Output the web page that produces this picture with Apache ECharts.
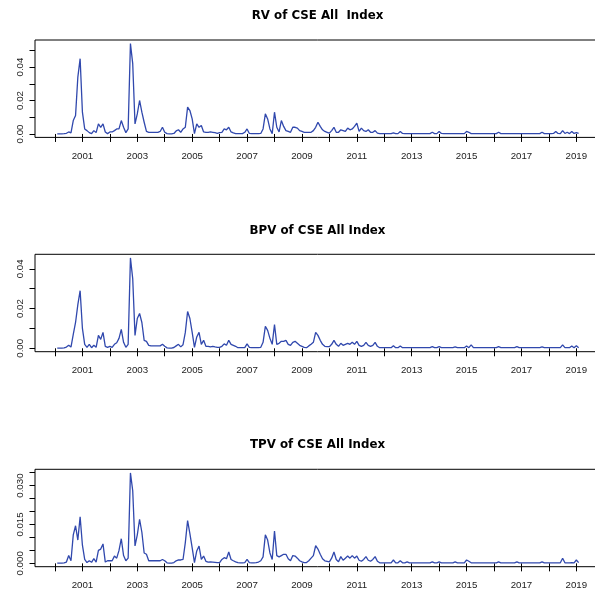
<!DOCTYPE html>
<html>
<head>
<meta charset="utf-8">
<script src="https://cdn.jsdelivr.net/npm/echarts@6/dist/echarts.min.js"></script>
<style>
  html, body { margin: 0; padding: 0; background: #fff; overflow: hidden; }
  /* the plotting frame runs a few pixels past the right edge of the page */
  #chart { width: 606px; height: 595px; }
</style>
</head>
<body>
<div id="chart"></div>
<script>
// Monthly realized-variance measures of the CSE All Share Index, Feb 2000 - Feb 2019
const START_YEAR = 2000;
const START_MONTH = 1; // 0 = January

// Realized variance (one row per calendar year)
const rv = [
  0.0001, 0.0001, 0.0001, 0.0002, 0.0004, 0.0012, 0.0006, 0.008, 0.011, 0.034, 0.045,
  0.013, 0.003, 0.002, 0.0008, 0.0002, 0.002, 0.0008, 0.006, 0.004, 0.006, 0.0012, 0.0002,
  0.0012, 0.0012, 0.002, 0.003, 0.003, 0.008, 0.004, 0.0008, 0.003, 0.054, 0.042, 0.006,
  0.012, 0.020, 0.013, 0.007, 0.0015, 0.001, 0.001, 0.001, 0.001, 0.001, 0.0015, 0.004,
  0.001, 0.0002, 0.0001, 0.0001, 0.0003, 0.0018, 0.0025, 0.001, 0.003, 0.004, 0.016, 0.014,
  0.009, 0.0002, 0.006, 0.004, 0.005, 0.0012, 0.001, 0.001, 0.0012, 0.001, 0.0008, 0.0004,
  0.0008, 0.001, 0.003, 0.0025, 0.004, 0.0012, 0.0006, 0.0002, 0.0002, 0.0002, 0.0002, 0.001,
  0.003, 0.0003, 0.0002, 0.0002, 0.0002, 0.0002, 0.0003, 0.003, 0.012, 0.009, 0.003, 0.0002,
  0.013, 0.004, 0.0012, 0.008, 0.0045, 0.002, 0.0015, 0.001, 0.004, 0.004, 0.0035, 0.002,
  0.0015, 0.001, 0.001, 0.001, 0.001, 0.002, 0.004, 0.007, 0.0045, 0.0025, 0.0015, 0.001,
  0.0005, 0.002, 0.004, 0.001, 0.001, 0.0025, 0.002, 0.0015, 0.0035, 0.0025, 0.003, 0.0045,
  0.0065, 0.0015, 0.0035, 0.002, 0.0015, 0.0025, 0.001, 0.001, 0.002, 0.0005, 0.0002, 0.0002,
  0.0002, 0.0002, 0.0002, 0.0002, 0.0006, 0.0002, 0.0002, 0.0015, 0.0003, 0.0002, 0.0002, 0.0002,
  0.0002, 0.0002, 0.0002, 0.0002, 0.0002, 0.0002, 0.0002, 0.0002, 0.0002, 0.001, 0.0002, 0.0002,
  0.0015, 0.0003, 0.0002, 0.0002, 0.0002, 0.0002, 0.0002, 0.0002, 0.0002, 0.0002, 0.0002, 0.0002,
  0.0015, 0.001, 0.0002, 0.0002, 0.0002, 0.0002, 0.0002, 0.0002, 0.0002, 0.0002, 0.0002, 0.0002,
  0.0002, 0.0002, 0.001, 0.0002, 0.0002, 0.0002, 0.0002, 0.0002, 0.0002, 0.0002, 0.0002, 0.0002,
  0.0002, 0.0002, 0.0002, 0.0002, 0.0002, 0.0002, 0.0002, 0.0002, 0.0002, 0.001, 0.0002, 0.0002,
  0.0002, 0.0002, 0.0003, 0.0015, 0.0003, 0.0002, 0.002, 0.0003, 0.001, 0.0002, 0.0015, 0.0003,
  0.0008, 0.0003
];

// Bipower variation
const bpv = [
  0.0001, 0.0001, 0.0001, 0.0002, 0.0006, 0.0015, 0.0006, 0.007, 0.013, 0.022, 0.029,
  0.010, 0.002, 0.0005, 0.002, 0.0003, 0.0015, 0.0005, 0.0065, 0.0045, 0.008, 0.001, 0.0005,
  0.001, 0.0005, 0.002, 0.0028, 0.005, 0.0095, 0.003, 0.0005, 0.002, 0.0455, 0.035, 0.0065,
  0.015, 0.0175, 0.013, 0.004, 0.0035, 0.0015, 0.0012, 0.0012, 0.0012, 0.0012, 0.0012, 0.002,
  0.001, 0.0002, 0.0001, 0.0001, 0.0004, 0.0012, 0.002, 0.0007, 0.0018, 0.008, 0.0185, 0.015,
  0.008, 0.0005, 0.0057, 0.008, 0.002, 0.004, 0.001, 0.001, 0.0007, 0.001, 0.0007, 0.0005,
  0.0005, 0.001, 0.0022, 0.0015, 0.004, 0.002, 0.0015, 0.001, 0.0003, 0.0003, 0.0003, 0.0003,
  0.0022, 0.0005, 0.0003, 0.0003, 0.0003, 0.0003, 0.0005, 0.003, 0.011, 0.009, 0.005, 0.002,
  0.012, 0.002, 0.0025, 0.0035, 0.0035, 0.004, 0.002, 0.0015, 0.003, 0.0035, 0.0025, 0.0015,
  0.001, 0.0005, 0.0003, 0.0012, 0.002, 0.003, 0.008, 0.0065, 0.004, 0.002, 0.001, 0.0008,
  0.0008, 0.002, 0.004, 0.002, 0.001, 0.0025, 0.0015, 0.002, 0.0025, 0.002, 0.003, 0.002,
  0.0035, 0.0015, 0.001, 0.0015, 0.003, 0.0015, 0.001, 0.0015, 0.003, 0.001, 0.0003, 0.0003,
  0.0003, 0.0003, 0.0003, 0.0003, 0.0013, 0.0003, 0.0003, 0.0012, 0.0003, 0.0003, 0.0003, 0.0003,
  0.0003, 0.0003, 0.0003, 0.0003, 0.0003, 0.0003, 0.0003, 0.0003, 0.0003, 0.0008, 0.0003, 0.0003,
  0.0008, 0.0003, 0.0003, 0.0003, 0.0003, 0.0003, 0.0003, 0.0007, 0.0003, 0.0003, 0.0003, 0.0003,
  0.0012, 0.0003, 0.0017, 0.0003, 0.0003, 0.0003, 0.0003, 0.0003, 0.0003, 0.0003, 0.0003, 0.0003,
  0.0003, 0.0003, 0.0008, 0.0003, 0.0003, 0.0003, 0.0003, 0.0003, 0.0003, 0.0003, 0.0008, 0.0003,
  0.0003, 0.0003, 0.0003, 0.0003, 0.0003, 0.0003, 0.0003, 0.0003, 0.0003, 0.0007, 0.0003, 0.0003,
  0.0003, 0.0003, 0.0003, 0.0003, 0.0003, 0.0003, 0.0017, 0.0003, 0.0003, 0.0003, 0.0012, 0.0003,
  0.0013, 0.0003
];

// Tripower variation
const tpv = [
  0.0001, 0.0001, 0.0001, 0.0002, 0.0005, 0.003, 0.001, 0.011, 0.0145, 0.009, 0.018,
  0.007, 0.0015, 0.0003, 0.001, 0.0004, 0.0018, 0.0005, 0.005, 0.0055, 0.0075, 0.0005, 0.001,
  0.001, 0.001, 0.0028, 0.002, 0.005, 0.0095, 0.003, 0.001, 0.002, 0.0349, 0.028, 0.0067,
  0.011, 0.017, 0.012, 0.004, 0.0035, 0.001, 0.001, 0.001, 0.001, 0.001, 0.001, 0.0015,
  0.001, 0.0002, 0.0001, 0.0001, 0.0003, 0.001, 0.0013, 0.0013, 0.0015, 0.008, 0.0165, 0.0115,
  0.006, 0.0003, 0.0048, 0.0067, 0.0015, 0.0028, 0.0008, 0.0005, 0.0006, 0.0005, 0.0004, 0.0003,
  0.0003, 0.0015, 0.0022, 0.0018, 0.0044, 0.0015, 0.001, 0.0006, 0.0003, 0.0002, 0.0002, 0.0003,
  0.0015, 0.0003, 0.0002, 0.0002, 0.0003, 0.0005, 0.001, 0.0025, 0.011, 0.009, 0.004, 0.0015,
  0.0125, 0.003, 0.0025, 0.003, 0.0035, 0.0035, 0.0018, 0.001, 0.003, 0.0028, 0.002, 0.001,
  0.0006, 0.0003, 0.0003, 0.001, 0.002, 0.003, 0.0068, 0.0055, 0.0035, 0.0018, 0.001, 0.0008,
  0.0006, 0.002, 0.0044, 0.0015, 0.0006, 0.0026, 0.0012, 0.002, 0.0028, 0.002, 0.003, 0.002,
  0.0028, 0.0012, 0.0008, 0.0015, 0.0026, 0.0012, 0.0008, 0.0015, 0.0026, 0.0008, 0.0002, 0.0002,
  0.0002, 0.0002, 0.0002, 0.0002, 0.0013, 0.0002, 0.0002, 0.001, 0.0002, 0.0002, 0.0006, 0.0002,
  0.0002, 0.0002, 0.0002, 0.0002, 0.0002, 0.0002, 0.0002, 0.0002, 0.0002, 0.0006, 0.0002, 0.0002,
  0.0006, 0.0002, 0.0002, 0.0002, 0.0002, 0.0002, 0.0002, 0.0006, 0.0002, 0.0002, 0.0002, 0.0002,
  0.0013, 0.0008, 0.0002, 0.0002, 0.0002, 0.0002, 0.0002, 0.0002, 0.0002, 0.0002, 0.0002, 0.0002,
  0.0002, 0.0002, 0.0006, 0.0002, 0.0002, 0.0002, 0.0002, 0.0002, 0.0002, 0.0002, 0.0006, 0.0002,
  0.0002, 0.0002, 0.0002, 0.0002, 0.0002, 0.0002, 0.0002, 0.0002, 0.0002, 0.0006, 0.0002, 0.0002,
  0.0002, 0.0002, 0.0002, 0.0002, 0.0002, 0.0002, 0.002, 0.0002, 0.0002, 0.0002, 0.0003, 0.0002,
  0.0013, 0.0003
];

const titles = ['RV of CSE All  Index', 'BPV of CSE All Index', 'TPV of CSE All Index'];

// Axis ticks and labels
const yearTicks = [2000, 2001, 2002, 2003, 2004, 2005, 2006, 2007, 2008, 2009,
                   2010, 2011, 2012, 2013, 2014, 2015, 2016, 2017, 2018, 2019];
const yearLabels = [2001, 2003, 2005, 2007, 2009, 2011, 2013, 2015, 2017, 2019];
const rvTicks = [0, 0.01, 0.02, 0.03, 0.04, 0.05];
const rvLabels = [0, 0.02, 0.04];
const bpvTicks = [0, 0.01, 0.02, 0.03, 0.04];
const bpvLabels = [0, 0.02, 0.04];
const tpvTicks = [0, 0.005, 0.01, 0.015, 0.02, 0.025, 0.03, 0.035];
const tpvLabels = [0, 0.015, 0.03];

// decimal-year time stamp for each monthly observation
const times = rv.map((_, i) => START_YEAR + (START_MONTH + i) / 12);

// R-style axis extent: data range padded by 4% on each side
function padded(values) {
  const lo = Math.min(...values), hi = Math.max(...values);
  const pad = 0.04 * (hi - lo);
  return [lo - pad, hi + pad];
}

const X_MIN = 1999.272, X_MAX = 2019.862;
const LINE_COLOR = '#3048ad';
const TICK_FONT = '"Liberation Sans", Arial, sans-serif';

const panels = [
  { title: titles[0], values: rv,  ticks: rvTicks,  labels: rvLabels,  digits: 2, top: 40,    titleY: 16 },
  { title: titles[1], values: bpv, ticks: bpvTicks, labels: bpvLabels, digits: 2, top: 254.3, titleY: 230.6 },
  { title: titles[2], values: tpv, ticks: tpvTicks, labels: tpvLabels, digits: 3, top: 469.3, titleY: 445.2 }
];

const chart = echarts.init(document.getElementById('chart'), null, { renderer: 'canvas' });

const option = {
  animation: false,
  backgroundColor: '#ffffff',
  title: panels.map(p => ({
    text: p.title,
    left: 317.5,
    top: p.titleY,
    padding: 0,
    textAlign: 'center',
    textVerticalAlign: 'middle',
    textStyle: { fontFamily: '"DejaVu Sans", sans-serif', fontWeight: 'bold', fontSize: 11.8, color: '#000' }
  })),
  grid: panels.map(p => ({
    left: 35, top: p.top, width: 565, height: 97.4,
    show: true, borderColor: '#000', borderWidth: 1, backgroundColor: 'transparent',
    containLabel: false
  })),
  xAxis: panels.map((p, i) => ({
    gridIndex: i,
    type: 'value',
    min: X_MIN,
    max: X_MAX,
    axisLine: { show: false },
    splitLine: { show: false },
    axisTick: { show: true, customValues: yearTicks, length: 8, lineStyle: { color: '#000', width: 1 } },
    axisLabel: {
      show: true, customValues: yearLabels, margin: 14,
      fontFamily: TICK_FONT, fontSize: 9.7, color: '#222',
      formatter: v => String(Math.round(v))
    }
  })),
  yAxis: panels.map((p, i) => {
    const [lo, hi] = padded(p.values);
    return {
      gridIndex: i,
      type: 'value',
      min: lo,
      max: hi,
      axisLine: { show: false },
      splitLine: { show: false },
      axisTick: { show: true, customValues: p.ticks, length: 5.5, lineStyle: { color: '#000', width: 1 } },
      axisLabel: {
        show: true, customValues: p.labels, rotate: 90, margin: 10,
        fontFamily: TICK_FONT, fontSize: 9.7, color: '#222',
        formatter: v => v.toFixed(p.digits)
      }
    };
  }),
  series: panels.map((p, i) => ({
    type: 'line',
    xAxisIndex: i,
    yAxisIndex: i,
    data: p.values.map((v, k) => [times[k], v]),
    showSymbol: false,
    symbol: 'none',
    silent: true,
    lineStyle: { color: LINE_COLOR, width: 1.3 }
  }))
};

chart.setOption(option);
</script>
</body>
</html>
